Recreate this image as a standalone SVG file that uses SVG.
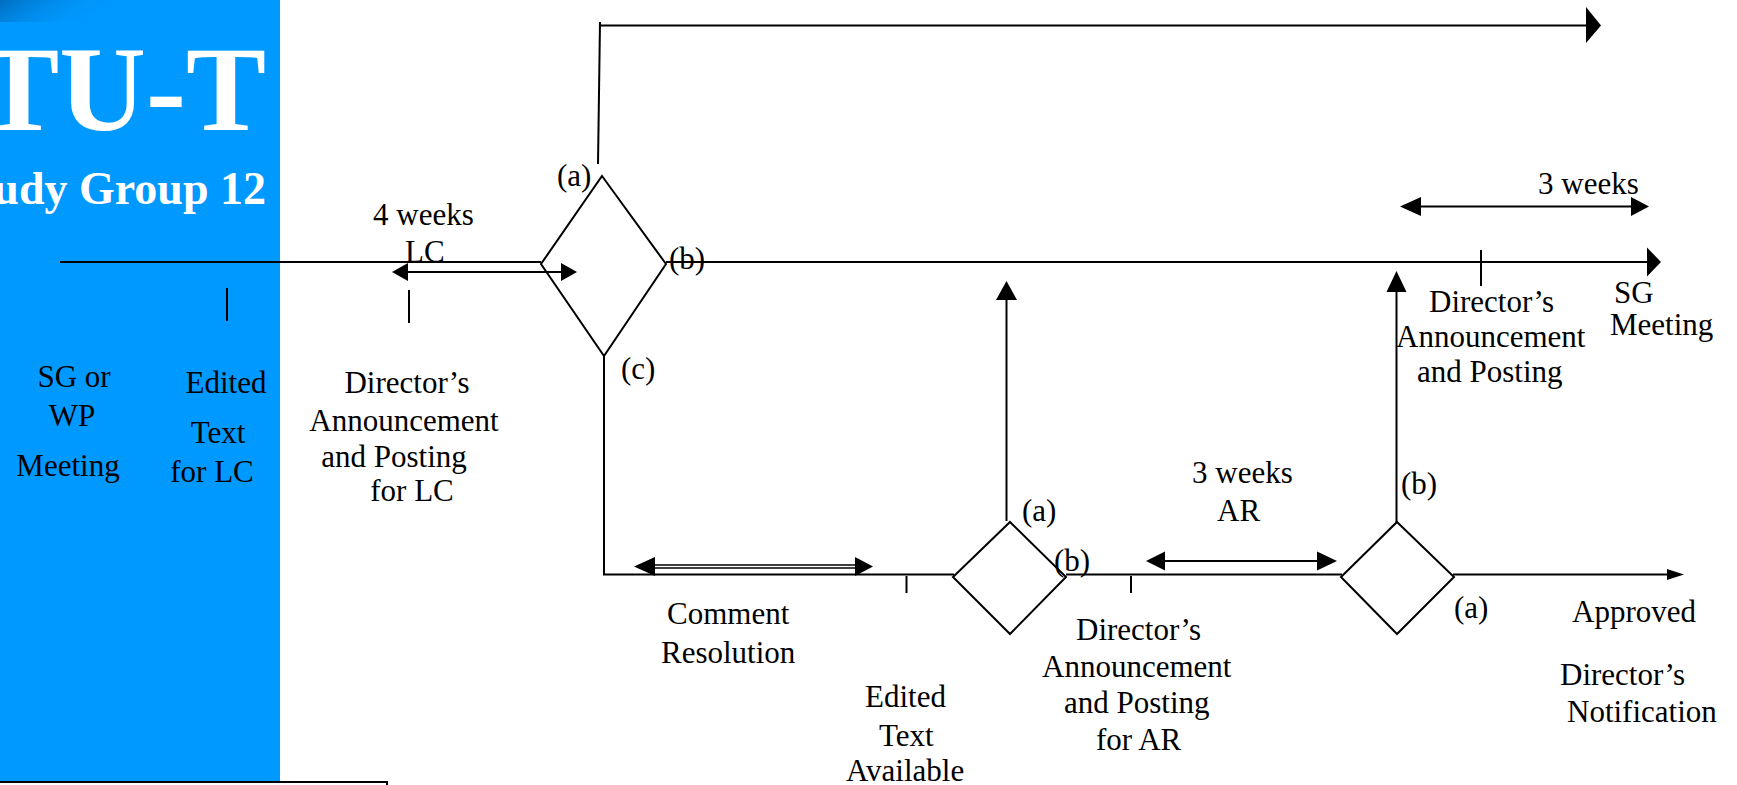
<svg xmlns="http://www.w3.org/2000/svg" width="1737" height="785" viewBox="0 0 1737 785">
<defs>
<linearGradient id="tl" x1="0" y1="0" x2="1" y2="0.3">
<stop offset="0" stop-color="#0068b8" stop-opacity="0.9"/>
<stop offset="1" stop-color="#0099ff" stop-opacity="0"/>
</linearGradient>
<style>
.ln{stroke:#000;stroke-width:2;fill:none}
.ah{fill:#000;stroke:none}
.dm{fill:none;stroke:#000;stroke-width:2}
.t{font-family:"Liberation Serif","Times New Roman",serif;font-size:31px;fill:#000}
.m{text-anchor:middle}
.hd{font-family:"Liberation Serif","Times New Roman",serif;font-weight:bold;fill:#fff;text-anchor:end}
</style>
</defs>
<rect x="0" y="0" width="1737" height="785" fill="#fff"/>
<g id="panel">
<rect x="0" y="0" width="280" height="781" fill="#0099ff"/>
<rect x="0" y="0" width="115" height="22" fill="url(#tl)"/>
<text class="hd" x="266" y="130" font-size="120">ITU-T</text>
<text class="hd" x="266" y="204" font-size="46">Study Group 12</text>
<path class="ln" d="M0 782 H387 V785"/>
</g>
<g id="connectors">
<path class="ln" d="M60 262 H541"/>
<path class="ln" d="M666 262 H1648"/>
<polygon class="ah" points="1647,247.5 1661,262 1647,276.5"/>
<path class="ln" d="M408 272 H561"/>
<polygon class="ah" points="392,272 408,263 408,281"/>
<polygon class="ah" points="577,272 561,263 561,281"/>
<path class="ln" d="M598 164 L600 22"/>
<path class="ln" d="M599 25.5 H1587"/>
<polygon class="ah" points="1586,7 1601,25.5 1586,43"/>
<path class="ln" d="M604 356 V575"/>
<path class="ln" d="M603 574.5 H954"/>
<path class="ln" d="M1066 574.5 H1342"/>
<path class="ln" d="M1453 574.5 H1668"/>
<polygon class="ah" points="1667,569 1684,574.5 1667,580"/>
<path d="M655 566.5 H856" stroke="#000" stroke-width="4.5" fill="none"/>
<path d="M655 566.5 H856" stroke="#fff" stroke-width="1.5" fill="none"/>
<polygon class="ah" points="634,566.5 655,557 655,576"/>
<polygon class="ah" points="873,566.5 855,557 855,576"/>
<path class="ln" d="M906.5 576 V593"/>
<path class="ln" d="M1131 576 V593"/>
<path class="ln" d="M1006.5 521 V299"/>
<polygon class="ah" points="1006.5,281 996,300 1017,300"/>
<path class="ln" d="M1165 561 H1318"/>
<polygon class="ah" points="1146,561 1165,551.5 1165,570.5"/>
<polygon class="ah" points="1337,561 1317,551.5 1317,570.5"/>
<path class="ln" d="M1396.5 522 V291"/>
<polygon class="ah" points="1396.5,271 1386.5,292 1406.5,292"/>
<path class="ln" d="M1420 206.5 H1632"/>
<polygon class="ah" points="1400,206.5 1421,197 1421,216"/>
<polygon class="ah" points="1649,206.5 1631,197 1631,216"/>
<path class="ln" d="M1481 250 V286"/>
<path class="ln" d="M227 288 V321"/>
<path class="ln" d="M409 290 V323"/>
</g>
<g id="decision1">
<polygon class="dm" points="602,176 666,264 604,356 541,264"/>
<text class="t" x="557" y="186">(a)</text>
<text class="t" x="669" y="269">(b)</text>
<text class="t" x="621" y="379">(c)</text>
</g>
<g id="decision2">
<polygon class="dm" points="1010,522 1066,577 1010,634 953,577"/>
<text class="t" x="1022" y="521">(a)</text>
<text class="t" x="1054" y="571">(b)</text>
</g>
<g id="decision3">
<polygon class="dm" points="1397,522 1454,577 1397,634 1341,577"/>
<text class="t" x="1401" y="494">(b)</text>
<text class="t" x="1454" y="618">(a)</text>
</g>
<g id="sg-wp-meeting">
<text class="t m" x="74" y="387">SG or</text>
<text class="t m" x="72" y="426">WP</text>
<text class="t m" x="68" y="476">Meeting</text>
</g>
<g id="edited-lc">
<text class="t m" x="226" y="393">Edited</text>
<text class="t m" x="218" y="443">Text</text>
<text class="t m" x="212" y="482">for LC</text>
</g>
<g id="announce-lc">
<text class="t m" x="407" y="393">Director’s</text>
<text class="t m" x="404" y="431">Announcement</text>
<text class="t m" x="394" y="467">and Posting</text>
<text class="t m" x="412" y="501">for LC</text>
</g>
<g id="lc-period">
<text class="t" x="373" y="225">4 weeks</text>
<text class="t" x="405" y="262">LC</text>
</g>
<g id="sg-period">
<text class="t" x="1538" y="194">3 weeks</text>
</g>
<g id="announce-sg">
<text class="t" x="1429" y="312">Director’s</text>
<text class="t" x="1396" y="347">Announcement</text>
<text class="t" x="1417" y="382">and Posting</text>
</g>
<g id="sg-meeting">
<text class="t" x="1614" y="303">SG</text>
<text class="t" x="1610" y="335">Meeting</text>
</g>
<g id="comment-resolution">
<text class="t" x="667" y="624">Comment</text>
<text class="t" x="661" y="663">Resolution</text>
</g>
<g id="edited-available">
<text class="t" x="865" y="707">Edited</text>
<text class="t" x="879" y="746">Text</text>
<text class="t" x="846" y="781">Available</text>
</g>
<g id="ar-period">
<text class="t" x="1192" y="483">3 weeks</text>
<text class="t" x="1217" y="521">AR</text>
</g>
<g id="announce-ar">
<text class="t" x="1076" y="640">Director’s</text>
<text class="t" x="1042" y="677">Announcement</text>
<text class="t" x="1064" y="713">and Posting</text>
<text class="t" x="1096" y="750">for AR</text>
</g>
<g id="approved">
<text class="t" x="1572" y="622">Approved</text>
<text class="t" x="1560" y="685">Director’s</text>
<text class="t" x="1567" y="722">Notification</text>
</g>
</svg>
